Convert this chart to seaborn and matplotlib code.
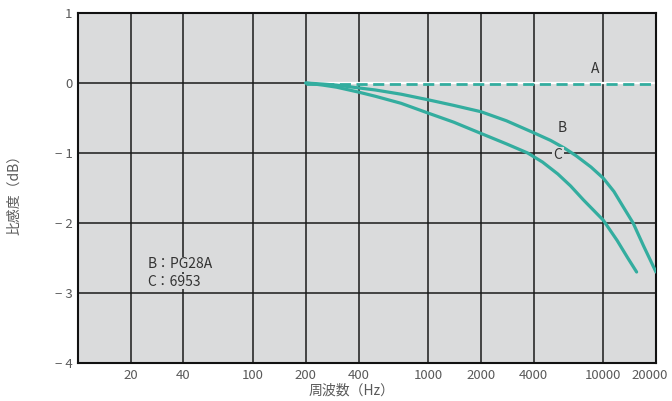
import numpy as np
import pandas as pd
import matplotlib
matplotlib.use("Agg")
import matplotlib.pyplot as plt
import matplotlib.transforms as mtransforms
import seaborn as sns

# ===========================
# Données
# ===========================
freq_a = [200, 20000]
resp_a = [-0.02, -0.02]

freq_b = [200, 250, 300, 400, 500, 700, 1000, 1400, 2000, 2800, 4000, 5000, 6000,
          7000, 8500, 10000, 11500, 13000, 14800, 17000, 20000]
resp_b = [0.0, -0.015, -0.03, -0.07, -0.10, -0.16, -0.24, -0.32, -0.41, -0.54, -0.71,
          -0.82, -0.93, -1.04, -1.2, -1.36, -1.55, -1.77, -2.0, -2.33, -2.7]

freq_c = [200, 250, 300, 400, 500, 700, 1000, 1400, 2000, 2800, 3700, 4500, 5500,
          6500, 7700, 10000, 12000, 13800, 15500]
resp_c = [0.0, -0.03, -0.06, -0.13, -0.19, -0.29, -0.43, -0.56, -0.72, -0.87, -1.0,
          -1.13, -1.3, -1.47, -1.67, -1.96, -2.25, -2.5, -2.7]

xticks = [20, 40, 100, 200, 400, 1000, 2000, 4000, 10000, 20000]
xtick_labels = ["20", "40", "100", "200", "400", "1000", "2000", "4000", "10000", "20000"]
yticks = [1, 0, -1, -2, -3, -4]
ytick_labels = ["1", "0", "− 1", "− 2", "− 3", "− 4"]

teal = "#33ad9f"
fond = "#dadbdc"
gris_txt = "#5a5a5a"

sns.set_theme(style="whitegrid")
plt.rcParams['font.family'] = ['Noto Sans CJK JP', 'DejaVu Sans']

df_b = pd.DataFrame({"freq": freq_b, "resp": resp_b})
df_c = pd.DataFrame({"freq": freq_c, "resp": resp_c})
df_a = pd.DataFrame({"freq": freq_a, "resp": resp_a})

fig = plt.figure(figsize=(6.72, 4.01), dpi=100)
ax = fig.add_axes([78 / 672, 38 / 401, 578 / 672, 350 / 401])
ax.set_facecolor(fond)

ax.set_xscale("log")
ax.set_xlim(10, 20000)
ax.set_ylim(-4, 1)

# grille noire
ax.grid(False)
for x in xticks:
    ax.axvline(x, color="#1a1a1a", lw=1.1, zorder=1)
for y in yticks:
    ax.axhline(y, color="#1a1a1a", lw=1.1, zorder=1)

# ligne blanche sur le zéro à partir de 200 Hz
ax.plot([200, 20000], [0, 0], color="white", lw=1.6, zorder=2)

sns.lineplot(data=df_a, x="freq", y="resp", ax=ax, color=teal, lw=2.0,
             linestyle=(0, (4, 2)), zorder=3)
sns.lineplot(data=df_b, x="freq", y="resp", ax=ax, color=teal, lw=2.3, zorder=3)
sns.lineplot(data=df_c, x="freq", y="resp", ax=ax, color=teal, lw=2.3, zorder=3)

# étiquettes des courbes
ax.text(9000, 0.2, "A", color="#333333", fontsize=10, ha="center", va="center", zorder=4)
ax.text(5800, -0.64, "B", color="#333333", fontsize=10, ha="center", va="center", zorder=4)
ax.text(5500, -1.03, "C", color="#333333", fontsize=10, ha="center", va="center", zorder=4,
        bbox=dict(facecolor=fond, edgecolor="none", pad=1))
ax.text(25, -2.59, "B：PG28A", color="#333333", fontsize=10, ha="left", va="center", zorder=4,
        bbox=dict(facecolor=fond, edgecolor="none", pad=0.5))
ax.text(25, -2.84, "C：6953", color="#333333", fontsize=10, ha="left", va="center", zorder=4,
        bbox=dict(facecolor=fond, edgecolor="none", pad=0.5))

ax.set_xticks(xticks)
ax.set_xticklabels(xtick_labels)
ax.minorticks_off()
ax.set_yticks(yticks)
ax.set_yticklabels(ytick_labels)
ax.tick_params(axis="both", length=0, labelsize=9.5, labelcolor=gris_txt, pad=4)
# on décale un peu le dernier libellé pour qu'il reste dans la figure
dernier = ax.get_xticklabels()[-1]
decal = mtransforms.ScaledTranslation(-6 / 100, 0, fig.dpi_scale_trans)
dernier.set_transform(dernier.get_transform() + decal)

ax.set_xlabel("周波数（Hz）", fontsize=10, color=gris_txt)
ax.xaxis.set_label_coords(0.474, -0.06)
ax.set_ylabel("比感度（dB）", fontsize=10, color=gris_txt)
ax.yaxis.set_label_coords(-0.098, 0.49)

for s in ax.spines.values():
    s.set_visible(True)
    s.set_color("#111111")
    s.set_linewidth(1.5)

fig.savefig("out.png", dpi=100, facecolor="white")
